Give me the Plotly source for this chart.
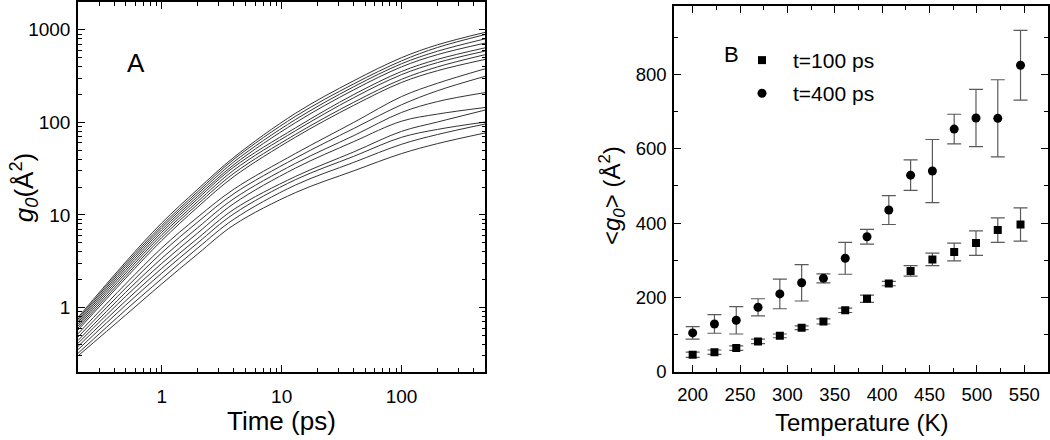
import plotly.graph_objects as go

W, H = 1050, 440
FONT = "Liberation Sans, Arial, sans-serif"

# ---------------- Panel A data: g0(t) curves ----------------
times = [0.2, 0.5, 1, 2, 4, 13, 40, 100, 200, 500]
curve_01 = [0.78, 3.10, 8.2, 19.0, 42.0, 125, 282, 500, 690, 940]
curve_02 = [0.75, 2.95, 7.7, 17.9, 40.0, 116, 261, 462, 645, 890]
curve_03 = [0.72, 2.80, 7.3, 16.9, 37.5, 107, 243, 430, 588, 800]
curve_04 = [0.69, 2.65, 6.9, 15.9, 35.0, 99, 225, 398, 540, 720]
curve_05 = [0.66, 2.50, 6.5, 15.0, 33.0, 87, 200, 355, 480, 640]
curve_06 = [0.63, 2.35, 6.1, 14.0, 30.6, 81, 185, 328, 443, 590]
curve_07 = [0.60, 2.20, 5.7, 13.1, 28.2, 74, 165, 292, 398, 540]
curve_08 = [0.57, 2.07, 5.3, 12.2, 26.0, 69, 153, 270, 362, 480]
curve_09 = [0.52, 1.80, 4.4, 9.5, 19.0, 46, 100, 190, 265, 380]
curve_10 = [0.48, 1.62, 3.9, 8.4, 17.0, 41, 86, 155, 220, 315]
curve_11 = [0.44, 1.46, 3.4, 7.3, 15.0, 36, 72, 128, 168, 210]
curve_12 = [0.41, 1.32, 3.0, 6.4, 13.3, 32, 62, 103, 123, 145]
curve_13 = [0.38, 1.18, 2.65, 5.6, 11.5, 26, 48, 80, 101, 136]
curve_14 = [0.35, 1.06, 2.35, 5.0, 10.3, 24, 43, 69, 84, 101]
curve_15 = [0.32, 0.94, 2.05, 4.4, 9.0, 21, 37, 58, 74, 96]
curve_16 = [0.30, 0.83, 1.80, 3.8, 7.8, 17.4, 30, 46, 59, 77]
curves = [curve_01, curve_02, curve_03, curve_04, curve_05, curve_06, curve_07, curve_08,
          curve_09, curve_10, curve_11, curve_12, curve_13, curve_14, curve_15, curve_16]

a_xticks = [1, 10, 100]
a_yticks = [1, 10, 100, 1000]

# ---------------- Panel B data ----------------
temperature = [200, 223, 246, 269, 292, 315, 338, 361, 384, 407, 430, 453, 476, 499, 522, 546]
g0_100ps = [45, 52, 63, 81, 96, 118, 135, 165, 196, 237, 271, 302, 322, 346, 381, 396]
g0_100ps_err = [7, 6, 6, 6, 5, 5, 7, 6, 10, 6, 14, 17, 24, 33, 33, 45]
g0_400ps = [104, 128, 138, 173, 209, 239, 251, 305, 363, 435, 529, 540, 653, 683, 682, 825]
g0_400ps_err = [17, 25, 37, 23, 40, 49, 12, 43, 20, 39, 41, 85, 40, 77, 104, 94]

fig = go.Figure()

for c in curves:
    fig.add_trace(go.Scatter(
        x=times, y=c, mode="lines", xaxis="x", yaxis="y",
        line=dict(color="#333333", width=1, shape="spline", smoothing=1.0),
        showlegend=False, hoverinfo="skip"))

err_style = dict(type="data", visible=True, color="#5a5a5a", thickness=1.2, width=7)
fig.add_trace(go.Scatter(
    x=temperature, y=g0_100ps, mode="markers", xaxis="x2", yaxis="y2",
    name="t=100 ps", legend="legend",
    marker=dict(symbol="square", size=8, color="black"),
    error_y=dict(array=g0_100ps_err, **err_style)))
fig.add_trace(go.Scatter(
    x=temperature, y=g0_400ps, mode="markers", xaxis="x2", yaxis="y2",
    name="t=400 ps", legend="legend2",
    marker=dict(symbol="circle", size=9, color="black"),
    error_y=dict(array=g0_400ps_err, **err_style)))

def px(x):
    return x / W

def py(y):
    return 1 - y / H

def minor_log(lo, hi):
    vals = []
    d = lo
    while d < hi:
        for m in range(2, 10):
            vals.append(round(m * d, 6))
        d *= 10
    return vals

axis_common = dict(showgrid=False, zeroline=False, showline=True, linecolor="black",
                   linewidth=1.5, ticks="inside", tickcolor="black", tickwidth=1.3,
                   ticklen=7, mirror="allticks",
                   tickfont=dict(family=FONT, size=19, color="black"))
tf_b = dict(family=FONT, size=18.5, color="black")

fig.update_layout(
    width=W, height=H,
    margin=dict(l=0, r=0, t=0, b=0),
    paper_bgcolor="white", plot_bgcolor="white",
    font=dict(family=FONT, color="black"),
    xaxis=dict(domain=[px(78), px(485.3)], anchor="y", type="log",
               range=[-0.69897, 2.69897], tickmode="array", tickvals=a_xticks,
               ticktext=[str(v) for v in a_xticks], ticklabelstandoff=6,
               minor=dict(ticks="inside", ticklen=4, tickwidth=1, tickcolor="black",
                          tickmode="array", tickvals=minor_log(0.1, 1000)),
               **axis_common),
    yaxis=dict(domain=[1 - 380.7 / H, 1 - 1 / H], anchor="x", type="log",
               range=[-0.69897, 3.30103], tickmode="array", tickvals=a_yticks,
               ticktext=[str(v) for v in a_yticks], ticklabelstandoff=2,
               minor=dict(ticks="inside", ticklen=4, tickwidth=1, tickcolor="black",
                          tickmode="array", tickvals=minor_log(0.1, 10000)),
               **axis_common),
    xaxis2=dict(domain=[px(674), px(1048)], anchor="y2", range=[180.3, 575],
                tickmode="linear", tick0=200, dtick=50, ticklabelstandoff=6,
                minor=dict(ticks="inside", ticklen=4, tickwidth=1, tickcolor="black",
                           tick0=175, dtick=25),
                **{**axis_common, "tickfont": tf_b}),
    yaxis2=dict(domain=[1 - 380 / H, 1 - 5 / H], anchor="x2", range=[0, 985],
                tickmode="linear", tick0=0, dtick=200, ticklabelstandoff=2,
                minor=dict(ticks="inside", ticklen=4, tickwidth=1, tickcolor="black",
                           tick0=0, dtick=100),
                **{**axis_common, "tickfont": tf_b}),
    legend=dict(x=px(731), y=py(61), xanchor="left", yanchor="middle",
                bgcolor="rgba(0,0,0,0)", itemwidth=52,
                font=dict(family=FONT, size=21, color="black")),
    legend2=dict(x=px(731), y=py(95), xanchor="left", yanchor="middle",
                 bgcolor="rgba(0,0,0,0)", itemwidth=52,
                 font=dict(family=FONT, size=21, color="black")),
)

annos = [
    dict(text="Time (ps)", x=px(281.5), y=py(431), size=26, angle=0),
    dict(text="Temperature (K)", x=px(861.7), y=py(432), size=24, angle=0),
    dict(text="<i>g</i><sub><i>0</i></sub>(Å<sup>2</sup>)", x=px(24), y=py(192), size=26, angle=-90),
    dict(text="&lt;<i>g</i><sub><i>0</i></sub>&gt; (Å<sup>2</sup>)", x=px(612), y=py(200), size=24, angle=-90),
    dict(text="A", x=px(136), y=py(64), size=26, angle=0),
    dict(text="B", x=px(731.7), y=py(55), size=22, angle=0),
]
for a in annos:
    fig.add_annotation(text=a["text"], x=a["x"], y=a["y"], xref="paper", yref="paper",
                       xanchor="center", yanchor="middle", showarrow=False,
                       textangle=a["angle"],
                       font=dict(family=FONT, size=a["size"], color="black"))

fig.write_html("out.html", config={"displayModeBar": False},
               post_script="document.body.style.margin='0';")
